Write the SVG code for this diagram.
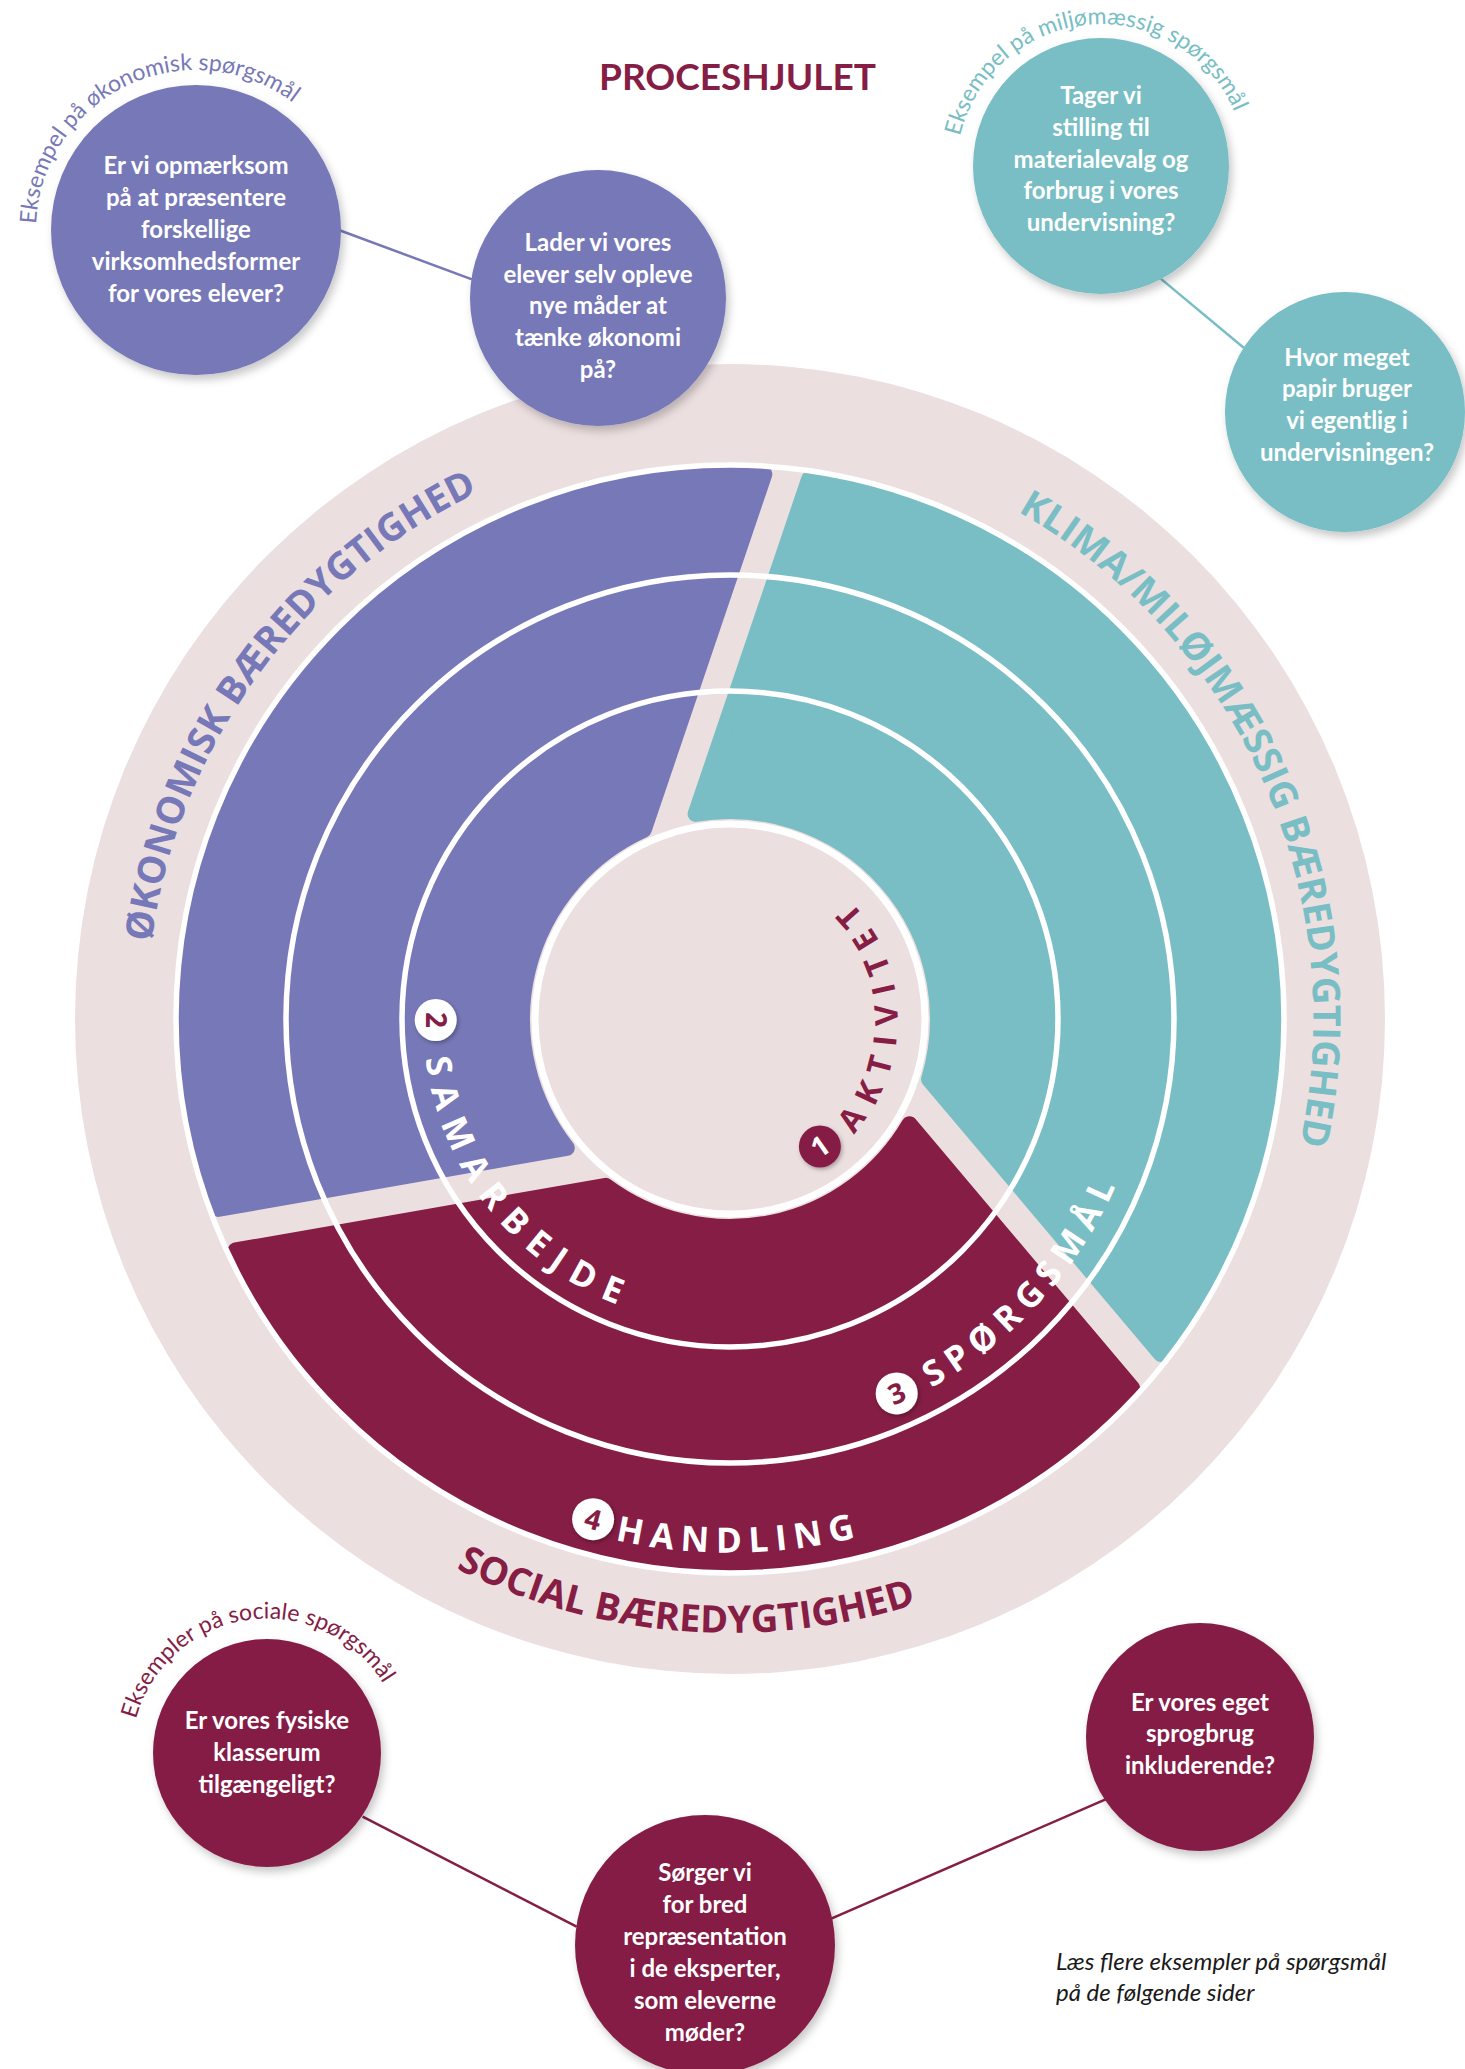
<svg xmlns="http://www.w3.org/2000/svg" width="1465" height="2069" viewBox="0 0 1465 2069">
<defs>
<style>
.bt{font-family:Lato,"Liberation Sans",sans-serif;font-weight:700;font-size:24px;fill:#fff;text-anchor:middle}
.ring{fill:none;stroke:#fff;stroke-width:5.5}
.seg{stroke-width:16;stroke-linejoin:round}
.big{font-family:"Open Sans","Liberation Sans",sans-serif;font-weight:700;font-size:38px;text-anchor:middle}
.step{font-family:"Open Sans","Liberation Sans",sans-serif;font-weight:700;font-size:35px;fill:#fff;text-anchor:middle}
.num{font-family:"Open Sans","Liberation Sans",sans-serif;font-weight:700;font-size:28px;text-anchor:middle}
.cap{font-family:Lato,"Liberation Sans",sans-serif;font-size:23px;text-anchor:middle}
.link{stroke-width:2.5;fill:none}
.purple{fill:#7778B7}
.teal{fill:#78BEC4}
.maroon{fill:#851D45}
</style>
<filter id="sh" x="-20%" y="-20%" width="140%" height="140%"><feDropShadow dx="3" dy="5" stdDeviation="4" flood-color="#000" flood-opacity="0.22"/></filter>
<filter id="sh2" x="-40%" y="-40%" width="180%" height="180%"><feDropShadow dx="1.5" dy="2" stdDeviation="2" flood-color="#000" flood-opacity="0.3"/></filter>
<path id="pOkon" d="M347.2,1459.4 A583.5,583.5 0 0 1 1030.5,518.8"/>
<path id="pKlima" d="M540.0,467.3 A583.5,583.5 0 0 1 1012.9,1529.3"/>
<path id="pSocial" d="M116.5,1025.4 A613.5,613.5 0 0 0 1335.3,1119.2"/>
<path id="pHandling" d="M199.4,1074.8 A533.5,533.5 0 0 0 1262.2,1056.2"/>
<path id="pSporg" d="M446.0,1335.8 A425.5,425.5 0 0 0 1014.0,702.2"/>
<path id="pSamar" d="M536.8,780.4 A307,307 0 0 0 923.2,1257.6"/>
<path id="pAktiv" d="M737.3,1190.3 A171.5,171.5 0 0 0 722.7,847.7"/>
<path id="pCapOk" d="M51.3,298.4 A160,160 0 0 1 340.7,161.6"/>
<path id="pCapMi" d="M956.6,178.8 A145,145 0 0 1 1245.4,153.2"/>
<path id="pCapSo" d="M132.4,1772.4 A136,136 0 0 1 401.6,1733.6"/>
</defs>
<rect width="1465" height="2069" fill="#fff"/>

<text id="title" x="737.5" y="90" font-family="Lato, 'Liberation Sans', sans-serif" font-weight="700" font-size="37" fill="#851D45" text-anchor="middle" textLength="277" lengthAdjust="spacingAndGlyphs">PROCESHJULET</text>

<g id="wheel">
  <circle id="band" cx="730" cy="1019" r="655" fill="#ECDFE0"/>
  <path id="seg-economic" class="seg purple" stroke="#7778B7" d="M764.35,474.1 L643.81,829.72 A208,208 0 0 0 566.8,1147.98 L218.2,1208.87 A546,546 0 0 1 764.35,474.1 Z"/>
  <path id="seg-climate" class="seg teal" stroke="#78BEC4" d="M809.22,478.8 L695.64,813.9 A208,208 0 0 1 929.03,1079.3 L1160.98,1354.1 A546,546 0 0 0 809.22,478.8 Z"/>
  <path id="seg-social" class="seg maroon" stroke="#851D45" d="M235.6,1250.5 L605.8,1185.84 A208,208 0 0 0 909.4,1124.2 L1132.2,1388.2 A546,546 0 0 1 235.6,1250.5 Z"/>
  <circle class="ring" cx="730" cy="1019" r="554"/>
  <circle class="ring" cx="730" cy="1019" r="444"/>
  <circle class="ring" cx="730" cy="1019" r="328"/>
  <circle id="core" cx="730" cy="1019" r="195" fill="#ECDFE0" stroke="#fff" stroke-width="7"/>
</g>

<g id="label-economic"><text class="big" fill="#7778B7"><textPath href="#pOkon" startOffset="50%">ØKONOMISK BÆREDYGTIGHED</textPath></text></g>
<g id="label-climate"><text class="big" fill="#78BEC4"><textPath href="#pKlima" startOffset="50%">KLIMA/MILØJMÆSSIG BÆREDYGTIGHED</textPath></text></g>
<g id="label-social"><text class="big" fill="#851D45"><textPath href="#pSocial" startOffset="50%">SOCIAL BÆREDYGTIGHED</textPath></text></g>

<g id="step-1">
  <text class="step" style="fill:#851D45;font-size:32px" letter-spacing="12"><textPath href="#pAktiv" startOffset="50%">AKTIVITET</textPath></text>
  <circle cx="819.9" cy="1146.5" r="21" fill="#851D45" filter="url(#sh2)"/>
  <text class="num" fill="#fff" transform="translate(819.9 1146.5) rotate(-35.2)" y="10">1</text>
</g>
<g id="step-2">
  <text class="step" letter-spacing="11.5"><textPath href="#pSamar" startOffset="50%">SAMARBEJDE</textPath></text>
  <circle cx="435.7" cy="1020" r="21" fill="#fff" filter="url(#sh2)"/>
  <text class="num" fill="#851D45" transform="translate(435.7 1020) rotate(90)" y="10">2</text>
</g>
<g id="step-3">
  <text class="step" letter-spacing="8"><textPath href="#pSporg" startOffset="50%">SPØRGSMÅL</textPath></text>
  <circle cx="896.7" cy="1393.4" r="21" fill="#fff" filter="url(#sh2)"/>
  <text class="num" fill="#851D45" transform="translate(896.7 1393.4) rotate(-24)" y="10">3</text>
</g>
<g id="step-4">
  <text class="step" letter-spacing="7.5"><textPath href="#pHandling" startOffset="50%">HANDLING</textPath></text>
  <circle cx="593.1" cy="1519.2" r="21" fill="#fff" filter="url(#sh2)"/>
  <text class="num" fill="#851D45" transform="translate(593.1 1519.2) rotate(15.3)" y="10">4</text>
</g>

<g id="connectors">
  <line class="link" stroke="#7778B7" x1="338.8" y1="230" x2="471.9" y2="279.3"/>
  <line class="link" stroke="#78BEC4" x1="1160.7" y1="278.6" x2="1244" y2="348"/>
  <line class="link" stroke="#851D45" x1="362.6" y1="1816.7" x2="576.6" y2="1926.7"/>
  <line class="link" stroke="#851D45" x1="831.8" y1="1918.3" x2="1105.6" y2="1799.3"/>
</g>

<g id="caption-economic"><text class="cap" fill="#7778B7"><textPath href="#pCapOk" startOffset="50%">Eksempel på økonomisk spørgsmål</textPath></text></g>
<g id="caption-climate"><text class="cap" fill="#78BEC4"><textPath href="#pCapMi" startOffset="50%">Eksempel på miljømæssig spørgsmål</textPath></text></g>
<g id="caption-social"><text class="cap" fill="#851D45"><textPath href="#pCapSo" startOffset="50%">Eksempler på sociale spørgsmål</textPath></text></g>

<g id="q-econ-1">
  <circle cx="196" cy="230" r="145" class="purple" filter="url(#sh)"/>
  <text class="bt"><tspan x="196" y="174">Er vi opmærksom</tspan><tspan x="196" y="206">på at præsentere</tspan><tspan x="196" y="238">forskellige</tspan><tspan x="196" y="270">virksomhedsformer</tspan><tspan x="196" y="302">for vores elever?</tspan></text>
</g>
<g id="q-econ-2">
  <circle cx="598" cy="298" r="128" class="purple" filter="url(#sh)"/>
  <text class="bt"><tspan x="598" y="251">Lader vi vores</tspan><tspan x="598" y="283">elever selv opleve</tspan><tspan x="598" y="314">nye måder at</tspan><tspan x="598" y="346">tænke økonomi</tspan><tspan x="598" y="378">på?</tspan></text>
</g>
<g id="q-clim-1">
  <circle cx="1101" cy="166" r="128" class="teal" filter="url(#sh)"/>
  <text class="bt"><tspan x="1101" y="104">Tager vi</tspan><tspan x="1101" y="136">stilling til</tspan><tspan x="1101" y="168">materialevalg og</tspan><tspan x="1101" y="199">forbrug i vores</tspan><tspan x="1101" y="231">undervisning?</tspan></text>
</g>
<g id="q-clim-2">
  <circle cx="1345" cy="412" r="120" class="teal" filter="url(#sh)"/>
  <text class="bt"><tspan x="1347" y="366">Hvor meget</tspan><tspan x="1347" y="397">papir bruger</tspan><tspan x="1347" y="429">vi egentlig i</tspan><tspan x="1347" y="461">undervisningen?</tspan></text>
</g>
<g id="q-soc-1">
  <circle cx="267" cy="1753" r="114" class="maroon" filter="url(#sh)"/>
  <text class="bt"><tspan x="267" y="1729">Er vores fysiske</tspan><tspan x="267" y="1761">klasserum</tspan><tspan x="267" y="1793">tilgængeligt?</tspan></text>
</g>
<g id="q-soc-2">
  <circle cx="705" cy="1945" r="130" class="maroon" filter="url(#sh)"/>
  <text class="bt"><tspan x="705" y="1881">Sørger vi</tspan><tspan x="705" y="1913">for bred</tspan><tspan x="705" y="1945">repræsentation</tspan><tspan x="705" y="1977">i de eksperter,</tspan><tspan x="705" y="2009">som eleverne</tspan><tspan x="705" y="2041">møder?</tspan></text>
</g>
<g id="q-soc-3">
  <circle cx="1200" cy="1737" r="114" class="maroon" filter="url(#sh)"/>
  <text class="bt"><tspan x="1200" y="1711">Er vores eget</tspan><tspan x="1200" y="1742">sprogbrug</tspan><tspan x="1200" y="1774">inkluderende?</tspan></text>
</g>

<g id="footnote">
  <text font-family="Lato, 'Liberation Sans', sans-serif" font-style="italic" font-size="24" fill="#1a1a1a"><tspan x="1056" y="1970">Læs flere eksempler på spørgsmål</tspan><tspan x="1056" y="2001">på de følgende sider</tspan></text>
</g>
</svg>
